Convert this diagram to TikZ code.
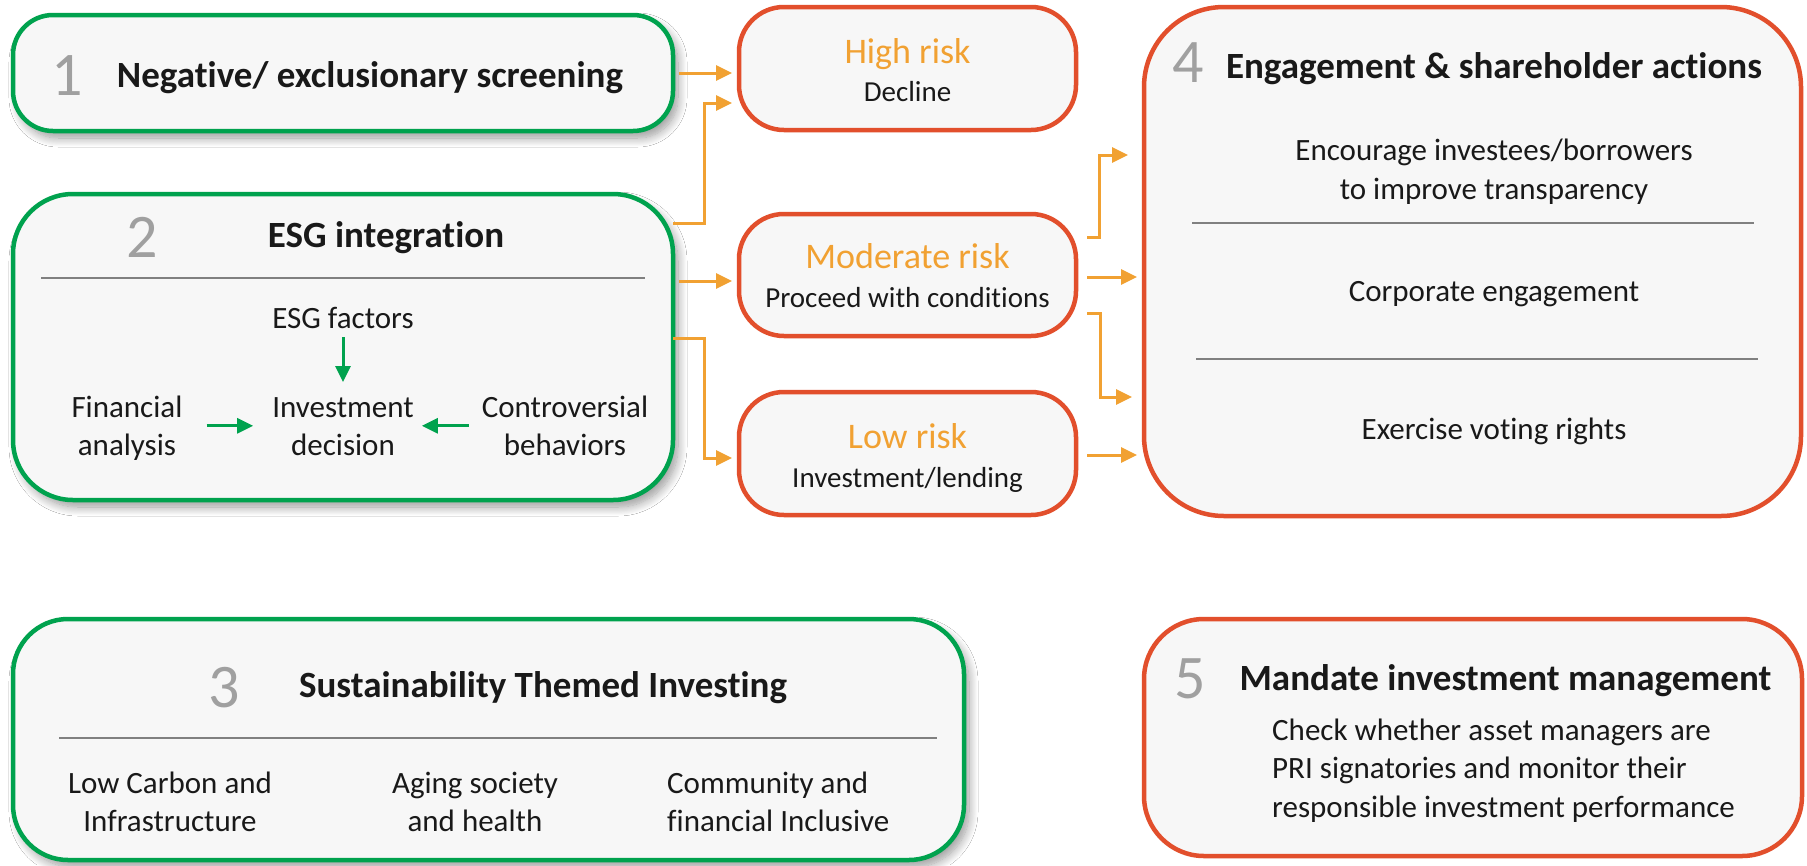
\documentclass[tikz,border=0pt]{standalone}
\usepackage{fontspec}
\setmainfont{Carlito}[Ligatures=NoCommon]
\usetikzlibrary{arrows.meta,calc,shadows.blur}
\definecolor{esggreen}{RGB}{0,162,78}
\definecolor{riskred}{RGB}{226,79,44}
\definecolor{arroworange}{RGB}{241,161,50}
\definecolor{numgray}{RGB}{160,160,160}
\definecolor{boxfill}{RGB}{247,247,247}
\definecolor{textdark}{RGB}{25,25,25}
\definecolor{divgray}{RGB}{128,128,128}
\begin{document}
\begin{tikzpicture}[x=1pt,y=-1pt,
  box/.style={draw, line width=4.5pt, fill=boxfill, inner sep=0pt, outer sep=0pt, rounded corners=#1},
  gbox/.style={box=#1, draw=esggreen, blur shadow={shadow xshift=5pt,shadow yshift=-7pt,shadow blur radius=9pt,shadow blur steps=12}},
  rbox/.style={box=#1, draw=riskred},
  num/.style={font=\fontsize{62}{62}\selectfont, text=numgray, inner sep=0pt, anchor=base},
  ttl/.style={font=\fontsize{37}{44}\selectfont\bfseries, text=textdark, inner sep=0pt, anchor=base},
  body/.style={font=\fontsize{31}{38.5}\selectfont, text=textdark, inner sep=0pt, align=center},
  bodyb/.style={body, anchor=base},
  risk/.style={font=\fontsize{36}{44}\selectfont, text=arroworange, inner sep=0pt, anchor=base},
  risksub/.style={font=\fontsize{29}{36}\selectfont, text=textdark, inner sep=0pt, anchor=base},
  oarrow/.style={draw=arroworange, line width=3pt, -{Triangle[length=16pt,width=15pt]}},
  garrow/.style={draw=esggreen, line width=3pt, -{Triangle[length=16pt,width=15pt]}},
  divider/.style={draw=divgray, line width=2pt},
]
\fill[white] (0,0) rectangle (1807,865);
\useasboundingbox (0,0) rectangle (1807,865);

% boxes
\node[gbox=40pt, minimum width=660pt, minimum height=116pt] (b1) at (343,73) {};
\node[gbox=60pt, minimum width=660pt, minimum height=306pt] (b2) at (343,347) {};
\node[gbox=55pt, minimum width=951pt, minimum height=241pt] (b3) at (488.5,739.5) {};
\node[rbox=45pt, minimum width=337pt, minimum height=123pt] (high) at (907.5,68.5) {};
\node[rbox=45pt, minimum width=337pt, minimum height=122pt] (mod) at (907.5,275) {};
\node[rbox=45pt, minimum width=337pt, minimum height=123pt] (low) at (907.5,453.5) {};
\node[rbox=80pt, minimum width=657pt, minimum height=509pt] (b4) at (1472.5,261.5) {};
\node[rbox=60pt, minimum width=658pt, minimum height=237pt] (b5) at (1473,737.5) {};

% box 1
\node[num] (n1) at (67,95) {1};
\node[ttl] (t1) at (370,87) {Negative/ exclusionary screening};

% box 2
\node[num] (n2) at (142,257) {2};
\node[ttl] (t2) at (386,247) {ESG integration};
\draw[divider] (41,278) -- (645,278);
\node[bodyb] (esgf) at (343,328) {ESG factors};
\node[body] (fina) at (127,428.8) {\strut Financial\\\strut analysis};
\node[body] (invd) at (343,428.8) {\strut Investment\\\strut decision};
\node[body] (cont) at (565,428.8) {\strut Controversial\\\strut behaviors};
\draw[garrow, shorten <=9pt, shorten >=8pt] (esgf.south) -- (invd.north);
\draw[garrow, shorten <=24pt, shorten >=19pt] ($(fina.east)+(0,-3)$) -- ($(invd.west)+(0,-3)$);
\draw[garrow, shorten <=13pt, shorten >=8pt] ($(cont.west)+(0,-3)$) -- ($(invd.east)+(0,-3)$);

% risk boxes
\node[risk] (hrT) at (907.5,63) {High risk};
\node[risksub] (hrS) at (907.5,101) {Decline};
\node[risk] (mrT) at (907.5,268) {Moderate risk};
\node[risksub] (mrS) at (907.5,307) {Proceed with conditions};
\node[risk] (lrT) at (907.5,448) {Low risk};
\node[risksub] (lrS) at (907.5,487) {Investment/lending};

% box 4
\node[num] (n4) at (1188,82) {4};
\node[ttl] (t4) at (1494,78) {Engagement \& shareholder actions};
\node[body] (enc) at (1494,172.3) {\strut Encourage investees/borrowers\\\strut to improve transparency};
\draw[divider] (1192,223) -- (1754,223);
\node[bodyb] (corp) at (1494,301) {Corporate engagement};
\draw[divider] (1196,359) -- (1758,359);
\node[bodyb] (vote) at (1494,439) {Exercise voting rights};

% box 3
\node[num] (n3) at (224,707) {3};
\node[ttl] (t3) at (543,697) {Sustainability Themed Investing};
\draw[divider] (59,738) -- (937,738);
\node[body] (c1) at (170,804.8) {\strut Low Carbon and\\\strut Infrastructure};
\node[body] (c2) at (475,804.8) {\strut Aging society\\\strut and health};
\node[body, align=left, anchor=west] (c3) at (667,804.8) {\strut Community and\\\strut financial Inclusive};

% box 5
\node[num] (n5) at (1190,698) {5};
\node[ttl] (t5) at (1505.5,690) {Mandate investment management};
\node[body, align=left, anchor=west] (b5txt) at (1272,770.8) {\strut Check whether asset managers are\\\strut PRI signatories and monitor their\\\strut responsible investment performance};

% orange connectors
\draw[oarrow, shorten <=6pt, shorten >=7pt] (b1.east) -- (b1.east -| high.west);
\draw[oarrow, shorten >=7pt] ($(b2.north east)+(0,29)$) -- ++(31,0) |- ($(high.west)+(0,34.5)$);
\coordinate (m3) at ($(mod.west)+(0,6)$);
\draw[oarrow, shorten <=6pt, shorten >=7pt] (b2.east |- m3) -- (m3);
\draw[oarrow, shorten >=7pt] ($(b2.north east)+(0,144)$) -- ++(31,0) |- ($(low.west)+(0,4.5)$);
\draw[oarrow, shorten >=16pt] ($(mod.east)+(11,-38)$) -- ++(12,0) |- ($(b4.west)+(0,-106.5)$);
\coordinate (m6) at ($(mod.east)+(0,2)$);
\draw[oarrow, shorten <=11pt, shorten >=7pt] (m6) -- (m6 -| b4.west);
\draw[oarrow, shorten >=12pt] ($(mod.east)+(11,38)$) -- ++(13,0) |- ($(b4.west)+(0,135.5)$);
\coordinate (l8) at ($(low.east)+(0,1.5)$);
\draw[oarrow, shorten <=11pt, shorten >=7pt] (l8) -- (l8 -| b4.west);
\end{tikzpicture}
\end{document}
